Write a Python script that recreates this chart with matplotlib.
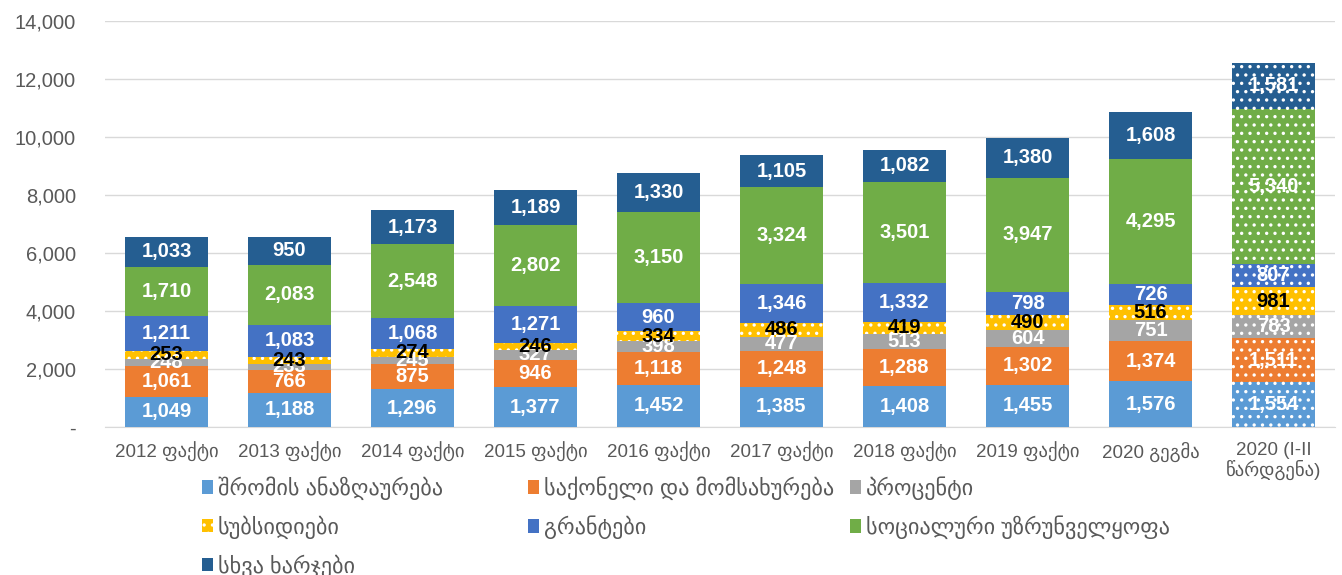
import matplotlib.pyplot as plt
import numpy as np
from matplotlib.patches import Patch
from matplotlib.ticker import FuncFormatter

plt.rcParams['font.family'] = ['Liberation Sans', 'DejaVu Sans']
plt.rcParams['hatch.linewidth'] = 1.2

years = ['2012 ფაქტი', '2013 ფაქტი', '2014 ფაქტი', '2015 ფაქტი', '2016 ფაქტი',
         '2017 ფაქტი', '2018 ფაქტი', '2019 ფაქტი', '2020 გეგმა',
         '2020 (I-II\nწარდგენა)']

labor = [1049, 1188, 1296, 1377, 1452, 1385, 1408, 1455, 1576, 1554]
goods = [1061, 766, 875, 946, 1118, 1248, 1288, 1302, 1374, 1511]
interest = [248, 233, 245, 327, 398, 477, 513, 604, 751, 783]
subsidies = [253, 243, 274, 246, 334, 486, 419, 490, 516, 981]
grants = [1211, 1083, 1068, 1271, 960, 1346, 1332, 798, 726, 807]
social = [1710, 2083, 2548, 2802, 3150, 3324, 3501, 3947, 4295, 5340]
other = [1033, 950, 1173, 1189, 1330, 1105, 1082, 1380, 1608, 1581]

names = ['შრომის ანაზღაურება', 'საქონელი და მომსახურება', 'პროცენტი',
         'სუბსიდიები', 'გრანტები', 'სოციალური უზრუნველყოფა', 'სხვა ხარჯები']
series = [labor, goods, interest, subsidies, grants, social, other]
colors = ['#5B9BD5', '#ED7D31', '#A5A5A5', '#FFC000', '#4472C4', '#70AD47', '#255E91']

W, H = 1342, 575
fig = plt.figure(figsize=(W / 100, H / 100), dpi=100)
ax = fig.add_axes([0.0782, 0.2574, 0.9166, 0.7061])

x = np.arange(len(years))
bottom = np.zeros(len(years))
for k, (vals, name, col) in enumerate(zip(series, names, colors)):
    vals = np.array(vals, dtype=float)
    bars = ax.bar(x, vals, 0.68, bottom=bottom, color=col, edgecolor='white',
                  linewidth=0, zorder=3)
    for i, p in enumerate(bars):
        if k == 3 or i == len(years) - 1:
            p.set_hatch('..')
        ax.text(x[i], bottom[i] + vals[i] / 2, f'{int(vals[i]):,}',
                ha='center', va='center', fontsize=14.5, fontweight='bold',
                color='black' if k == 3 else 'white', zorder=5)
    bottom += vals

ax.set_xlim(-0.5, len(years) - 0.5)
ax.set_ylim(0, 14000)
ax.set_yticks(np.arange(0, 14001, 2000))
ax.yaxis.set_major_formatter(FuncFormatter(lambda v, p: '-' if v == 0 else f'{int(v):,}'))
ax.grid(axis='y', color='#D9D9D9', linewidth=1, zorder=0)
ax.set_axisbelow(True)
for s in ['top', 'right', 'left']:
    ax.spines[s].set_visible(False)
ax.spines['bottom'].set_color('#D9D9D9')
ax.set_xticks(x)
ax.set_xticklabels(years, fontsize=13.5, linespacing=1.05)
ax.tick_params(axis='x', length=0, pad=11, colors='#595959')
ax.tick_params(axis='y', length=0, pad=21, labelsize=14.5, colors='#595959')

# legend laid out on a fixed grid, like the spreadsheet's
legend_pos = [(202, 488), (528, 488), (850, 488),
              (202, 527), (528, 527), (850, 527),
              (202, 566)]
for k, (name, col) in enumerate(zip(names, colors)):
    h = Patch(facecolor=col, edgecolor='white', linewidth=0,
              hatch='..' if k == 3 else None)
    px, py = legend_pos[k]
    fig.legend([h], [name], loc='center left',
               bbox_to_anchor=(px / W, 1 - py / H), frameon=False,
               fontsize=16, labelcolor='#595959', handlelength=0.5,
               handleheight=0.55, handletextpad=0.2, borderaxespad=0,
               borderpad=0)

fig.savefig('out.png', dpi=100)
